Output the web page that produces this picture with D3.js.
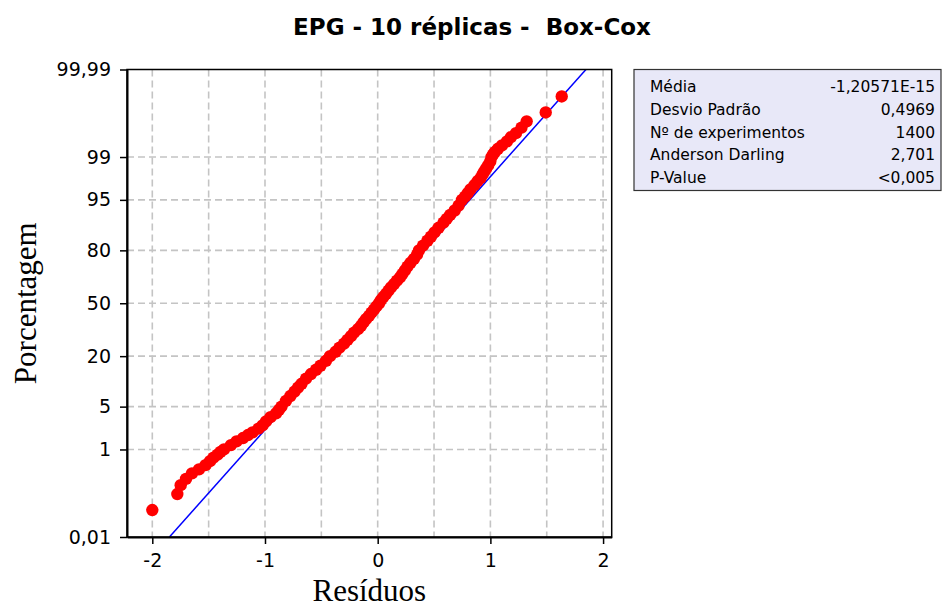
<!DOCTYPE html>
<html>
<head>
<meta charset="utf-8">
<script src="https://cdn.jsdelivr.net/npm/d3@7"></script>
<style>
  body { margin: 0; background: #fff; }
  svg { display: block; }
  .tick text { font-family: "DejaVu Sans", sans-serif; font-size: 19px; fill: #000; }
  .axis-label { font-family: "Liberation Serif", "Times New Roman", serif; font-size: 31px; fill: #000; }
  .title { font-family: "DejaVu Sans", sans-serif; font-size: 23px; font-weight: bold; white-space: pre; }
  .stat { font-family: "DejaVu Sans", sans-serif; font-size: 15.5px; fill: #000; }
</style>
</head>
<body>
<div id="chart"></div>
<script>
// 1: DATA
// percentage (plotting position) and residual of the plotted points
const pct = [0.05, 0.12, 0.19, 0.26, 0.34, 0.41, 0.5, 0.6, 0.7, 0.8, 0.9, 1.0,
  1.2, 1.4, 1.6, 1.8, 2.0, 2.3, 2.6, 3.0, 3.5, 4.0, 4.5, 5, 6, 7, 8, 9, 10,
  11.5, 13, 14.5, 16, 18, 20, 22, 24, 26, 28, 30, 32, 34, 36, 38, 40, 42, 44,
  46, 48, 50, 52, 54, 56, 58, 60, 62, 64, 66, 68, 70, 72, 74, 76, 78, 80, 82,
  84, 85.5, 87, 88.5, 90, 91, 92, 93, 94, 95, 95.5, 96, 96.5, 97, 97.4, 97.7,
  98, 98.2, 98.4, 98.6, 98.8, 99, 99.1, 99.2, 99.3, 99.4, 99.5, 99.59, 99.66,
  99.74, 99.81, 99.88, 99.95];
const res = [-2.000, -1.778, -1.748, -1.701, -1.648, -1.586, -1.528, -1.488, -1.457, -1.421, -1.395, -1.364,
  -1.302, -1.253, -1.195, -1.151, -1.111, -1.058, -1.022, -0.991, -0.951, -0.902, -0.876, -0.854, -0.814, -0.774, -0.738, -0.707, -0.676,
  -0.636, -0.592, -0.547, -0.508, -0.459, -0.423, -0.374, -0.339, -0.299, -0.268, -0.237, -0.210, -0.175, -0.148, -0.126, -0.104, -0.077, -0.055,
  -0.033, -0.011, 0.012, 0.029, 0.051, 0.074, 0.096, 0.118, 0.145, 0.171, 0.198, 0.220, 0.242, 0.264, 0.291, 0.322, 0.349, 0.366, 0.402,
  0.441, 0.472, 0.504, 0.540, 0.584, 0.612, 0.643, 0.683, 0.718, 0.748, 0.775, 0.799, 0.823, 0.859, 0.887, 0.914,
  0.932, 0.946, 0.963, 0.981, 0.999, 1.010, 1.023, 1.041, 1.067, 1.103, 1.147, 1.183, 1.227,
  1.276, 1.322, 1.491, 1.633];

// fitted normal
const mean = -1.20571e-15;
const sd = 0.4969;

// axis ticks
const yTicks = [0.01, 1, 5, 20, 50, 80, 95, 99, 99.99];
const yTickLabels = ["0,01", "1", "5", "20", "50", "80", "95", "99", "99,99"];
const yGrid = [1, 5, 20, 50, 80, 95, 99];
const xTicks = [-2, -1, 0, 1, 2];
const xGrid = [-2, -1.5, -1, -0.5, 0, 0.5, 1, 1.5, 2];

// stats table
const statLabels = ["Média", "Desvio Padrão", "Nº de experimentos", "Anderson Darling", "P-Value"];
const statValues = ["-1,20571E-15", "0,4969", "1400", "2,701", "<0,005"];

// inverse normal cdf (Acklam)
function probit(p) {
  const a = [-3.969683028665376e+01, 2.209460984245205e+02, -2.759285104469687e+02, 1.383577518672690e+02, -3.066479806614716e+01, 2.506628277459239e+00];
  const b = [-5.447609879822406e+01, 1.615858368580409e+02, -1.556989798598866e+02, 6.680131188771972e+01, -1.328068155288572e+01];
  const c = [-7.784894002430293e-03, -3.223964580411365e-01, -2.400758277161838e+00, -2.549732539343734e+00, 4.374664141464968e+00, 2.938163982698783e+00];
  const d = [7.784695709041462e-03, 3.224671290700398e-01, 2.445134137142996e+00, 3.754408661907416e+00];
  const pl = 0.02425;
  let q, r;
  if (p < pl) {
    q = Math.sqrt(-2 * Math.log(p));
    return (((((c[0]*q+c[1])*q+c[2])*q+c[3])*q+c[4])*q+c[5]) / ((((d[0]*q+d[1])*q+d[2])*q+d[3])*q+1);
  } else if (p <= 1 - pl) {
    q = p - 0.5; r = q * q;
    return (((((a[0]*r+a[1])*r+a[2])*r+a[3])*r+a[4])*r+a[5])*q / (((((b[0]*r+b[1])*r+b[2])*r+b[3])*r+b[4])*r+1);
  }
  q = Math.sqrt(-2 * Math.log(1 - p));
  return -(((((c[0]*q+c[1])*q+c[2])*q+c[3])*q+c[4])*q+c[5]) / ((((d[0]*q+d[1])*q+d[2])*q+d[3])*q+1);
}

// 2: LAYOUT
const W = 942, H = 610;
const margin = { top: 69.5, left: 127, right: 330.3, bottom: 73 };
const width = W - margin.left - margin.right;
const height = H - margin.top - margin.bottom;

const svg = d3.select("#chart").append("svg")
  .attr("width", W).attr("height", H);
const g = svg.append("g")
  .attr("transform", `translate(${margin.left},${margin.top})`);

// 3: SCALES
const x = d3.scaleLinear().domain([-2.2245, 2.0765]).range([0, width]);
const z = d3.scaleLinear().domain([probit(0.0001), probit(0.9999)]).range([height, 0]);
const yP = p => z(probit(p / 100));

// 4: GRID
g.selectAll(".hgrid").data(yGrid).enter().append("line")
  .attr("x1", 0).attr("x2", width)
  .attr("y1", d => yP(d)).attr("y2", d => yP(d))
  .style("stroke", "#c4c4c4").style("stroke-width", 1.6)
  .style("stroke-dasharray", "7,4");
g.selectAll(".vgrid").data(xGrid).enter().append("line")
  .attr("y1", 0).attr("y2", height)
  .attr("x1", d => x(d)).attr("x2", d => x(d))
  .style("stroke", "#c4c4c4").style("stroke-width", 1.6)
  .style("stroke-dasharray", "7,4");

// 5: FITTED LINE
const zLo = probit(0.0001), zHi = probit(0.9999);
g.append("line")
  .attr("x1", x(mean + sd * zLo)).attr("y1", z(zLo))
  .attr("x2", x(mean + sd * zHi)).attr("y2", z(zHi))
  .style("stroke", "#0000ff").style("stroke-width", 1.5);

// 6: POINTS
const pts = pct.map((p, i) => ({ p, r: res[i] }));
g.selectAll("circle").data(pts).enter().append("circle")
  .attr("cx", d => x(d.r))
  .attr("cy", d => yP(d.p))
  .attr("r", 6.2)
  .style("fill", "#ff0000");

// 7: FRAME AND AXES
g.append("rect")
  .attr("width", width).attr("height", height)
  .style("fill", "none").style("stroke", "#000").style("stroke-width", 1.5);

const xAxis = g.append("g")
  .attr("transform", `translate(0,${height})`)
  .call(d3.axisBottom(x).tickValues(xTicks).tickSize(7).tickSizeOuter(0)
    .tickPadding(10).tickFormat(d => String(d)));
const yAxis = g.append("g")
  .call(d3.axisLeft(z).tickValues(yTicks.map(p => probit(p / 100)))
    .tickSize(7).tickSizeOuter(0).tickPadding(9)
    .tickFormat((d, i) => yTickLabels[i]));
[xAxis, yAxis].forEach(a => {
  a.select(".domain").style("stroke", "#000").style("stroke-width", 2);
  a.selectAll(".tick line").style("stroke", "#000").style("stroke-width", 1.5);
});

// 8: LABELS
svg.append("text")
  .attr("class", "title")
  .attr("x", 472).attr("y", 34.5)
  .attr("text-anchor", "middle")
  .text("EPG - 10 réplicas -  Box-Cox");

svg.append("text")
  .attr("class", "axis-label")
  .attr("x", margin.left + width / 2).attr("y", 601)
  .attr("text-anchor", "middle")
  .text("Resíduos");

svg.append("text")
  .attr("class", "axis-label")
  .attr("transform", `translate(36,${margin.top + height / 2}) rotate(-90)`)
  .attr("text-anchor", "middle")
  .text("Porcentagem");

// 9: STATS BOX
const box = svg.append("g").attr("transform", "translate(634,69.5)");
box.append("rect")
  .attr("width", 307).attr("height", 121)
  .style("fill", "#e8e8f8").style("stroke", "#333").style("stroke-width", 1.2);
box.selectAll(".lab").data(statLabels).enter().append("text")
  .attr("class", "stat")
  .attr("x", 16).attr("y", (d, i) => 22.5 + i * 22.8)
  .text(d => d);
box.selectAll(".val").data(statValues).enter().append("text")
  .attr("class", "stat")
  .attr("x", 301).attr("y", (d, i) => 22.5 + i * 22.8)
  .attr("text-anchor", "end")
  .text(d => d);
</script>
</body>
</html>
